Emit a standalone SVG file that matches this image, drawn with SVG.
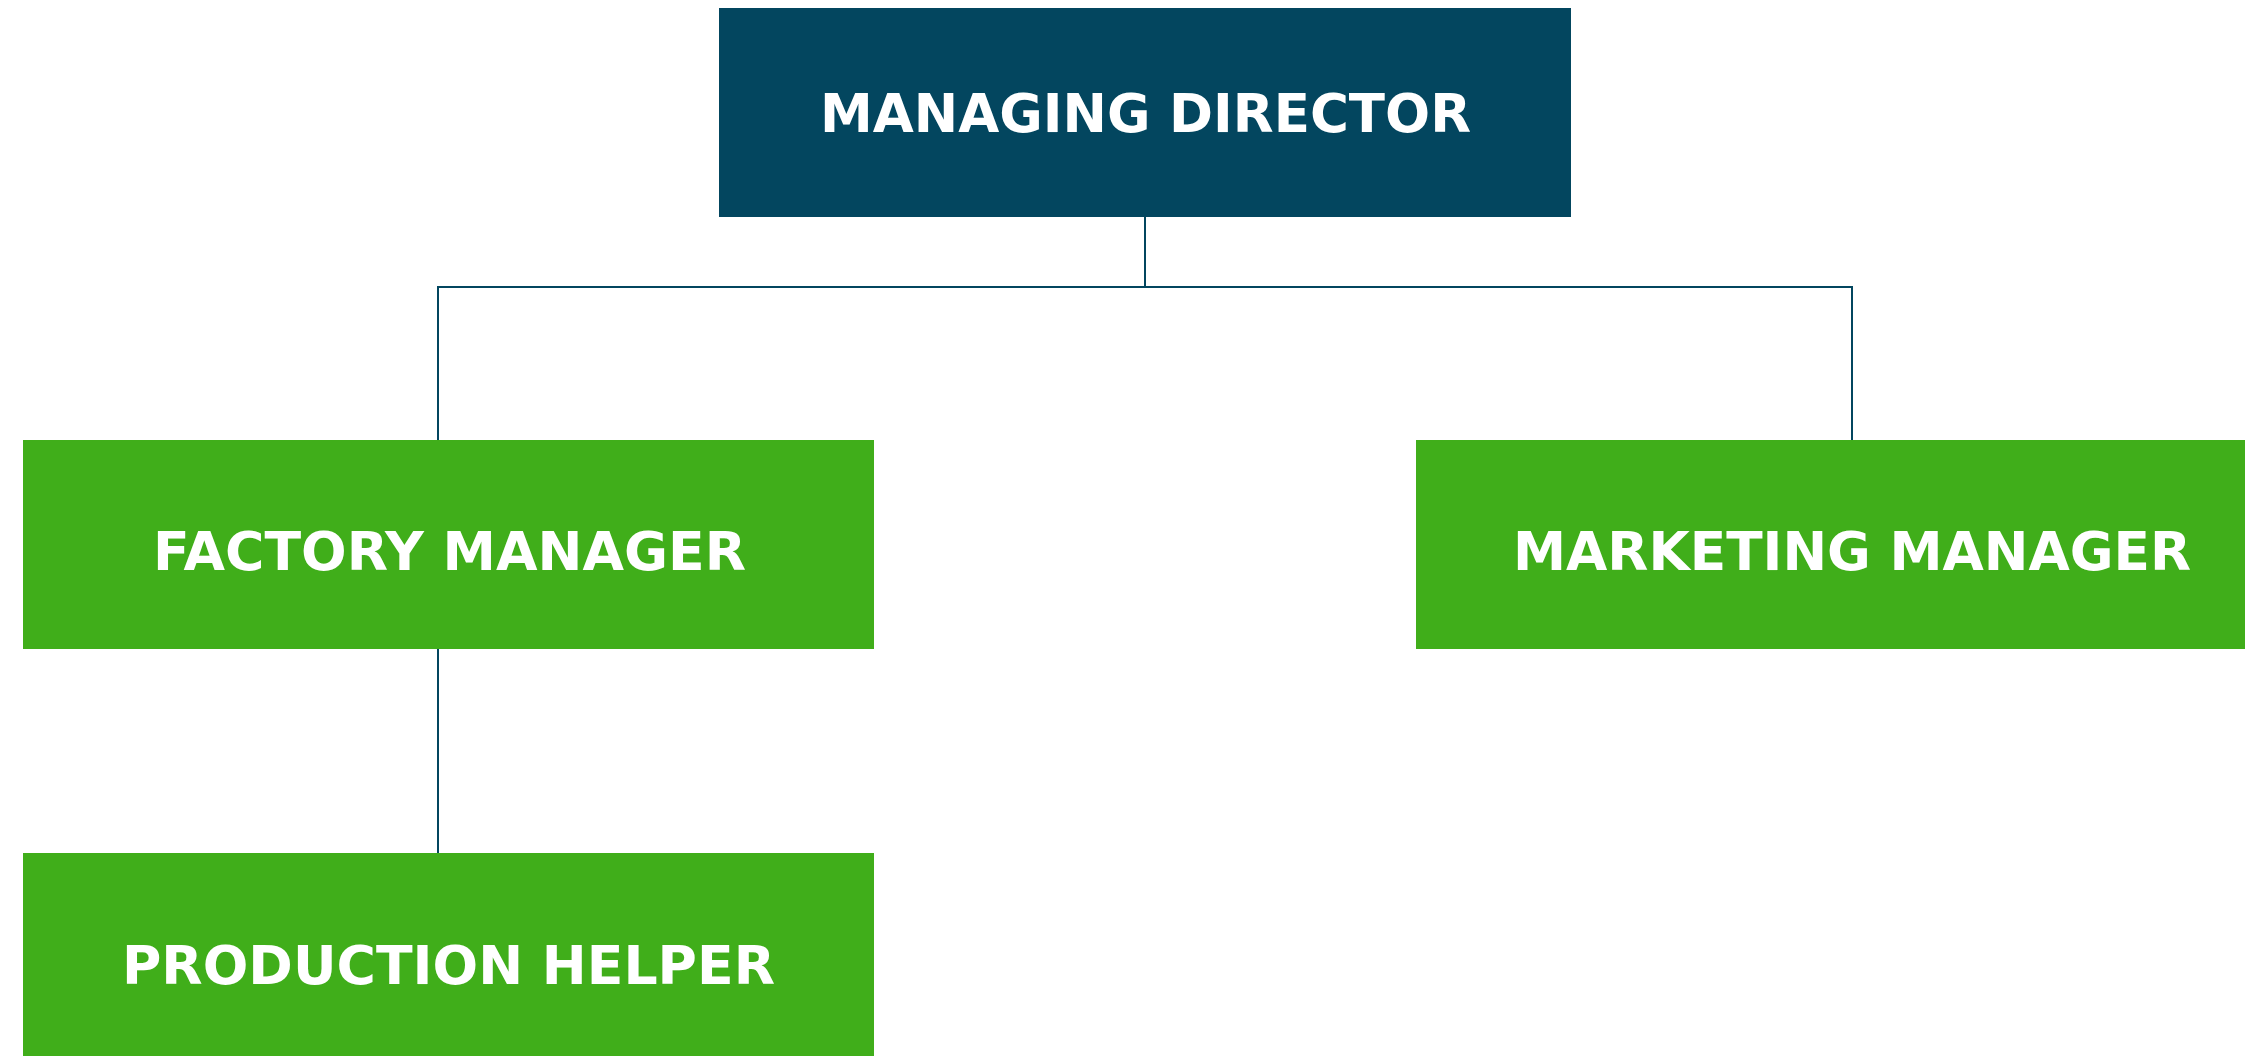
<svg xmlns="http://www.w3.org/2000/svg" width="2245" height="1056" viewBox="0 0 2245 1056">
<style>
.blue{fill:#03465F}
.green{fill:#40AE1A}
.lbl{font-family:"DejaVu Sans","Open Sans",sans-serif;font-weight:700;font-size:53px;fill:#FFFFFF;text-anchor:middle}
.con{stroke:#03465F;stroke-width:2;fill:none}
</style>
<rect width="2245" height="1056" fill="#FFFFFF"/>
<g id="connectors">
<path class="con" d="M1145,217 V287 M438,440 V287 H1852 V440 M438,649 V853"/>
</g>
<g id="managing-director">
<rect class="blue" x="719" y="8" width="852" height="209"/>
<text class="lbl" x="1145.5" y="132" textLength="651" lengthAdjust="spacingAndGlyphs">MANAGING DIRECTOR</text>
</g>
<g id="factory-manager">
<rect class="green" x="23" y="440" width="851" height="209"/>
<text class="lbl" x="449.5" y="570" textLength="593" lengthAdjust="spacingAndGlyphs">FACTORY MANAGER</text>
</g>
<g id="marketing-manager">
<rect class="green" x="1416" y="440" width="829" height="209"/>
<text class="lbl" x="1852" y="570" textLength="678" lengthAdjust="spacingAndGlyphs">MARKETING MANAGER</text>
</g>
<g id="production-helper">
<rect class="green" x="23" y="853" width="851" height="203"/>
<text class="lbl" x="448.5" y="984" textLength="653" lengthAdjust="spacingAndGlyphs">PRODUCTION HELPER</text>
</g>
</svg>
